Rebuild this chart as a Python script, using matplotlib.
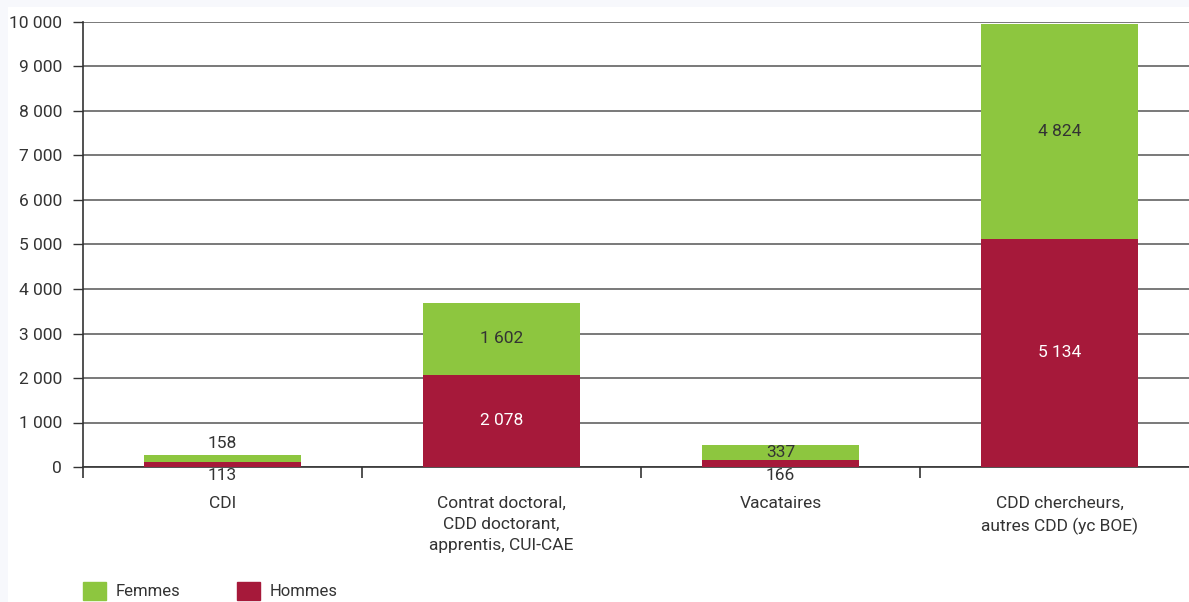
import numpy as np
import matplotlib
matplotlib.use('Agg')
import matplotlib.pyplot as plt
from matplotlib import font_manager
from matplotlib.patches import Patch, Rectangle

# font : un condensé si possible
names = set(f.name for f in font_manager.fontManager.ttflist)
fam = 'Liberation Sans Narrow' if 'Liberation Sans Narrow' in names else 'Roboto'
plt.rcParams['font.family'] = [fam, 'DejaVu Sans']
fs = 14 if fam == 'Liberation Sans Narrow' else 12.5

# données
categories = ['CDI', 'Contrat doctoral,\nCDD doctorant,\napprentis, CUI-CAE',
              'Vacataires', 'CDD chercheurs,\nautres CDD (yc BOE)']
hommes = [113, 2078, 166, 5134]
femmes = [158, 1602, 337, 4824]
yticks = [0, 1000, 2000, 3000, 4000, 5000, 6000, 7000, 8000, 9000, 10000]

c_f = '#8dc63f'
c_h = '#a6193a'
txt = '#333333'

def fmt(v):
    return '{:,}'.format(v).replace(',', ' ')

fig = plt.figure(figsize=(11.89, 6.02), dpi=100, facecolor='#f7f8fc')
fig.patches.append(Rectangle((8/1189, 0), 1, 1 - 7/602, transform=fig.transFigure,
                             facecolor='white', edgecolor='none', zorder=-5))
ax = fig.add_axes([83/1189, 135/602, 1106/1189, 445/602])
ax.set_facecolor('none')

x = np.arange(len(categories))
ax.bar(x, hommes, width=0.56, color=c_h, zorder=3)
ax.bar(x, femmes, width=0.56, bottom=hommes, color=c_f, zorder=3)

ax.set_ylim(0, 10000)
ax.set_xlim(-0.5, -0.5 + 1106/279)
ax.set_yticks(yticks)
ax.set_yticklabels([fmt(v) for v in yticks])
ax.yaxis.grid(True, color='#555555', lw=1.1, zorder=1)
ax.set_axisbelow(True)

ax.set_xticks(x)
ax.set_xticklabels(categories, linespacing=1.5)
ax.tick_params(axis='x', length=0, pad=21, labelsize=fs, labelcolor=txt)
ax.set_xticks(np.arange(len(categories)) - 0.5, minor=True)
ax.tick_params(axis='x', which='minor', length=8, width=1.2, color='#333333')
ax.tick_params(axis='y', length=7, width=1, color='#333333', labelsize=fs,
               labelcolor=txt, pad=8)

for s in ['top', 'right']:
    ax.spines[s].set_visible(False)
ax.spines['left'].set_color('#333333')
ax.spines['left'].set_linewidth(1.2)
ax.spines['bottom'].set_color('#333333')
ax.spines['bottom'].set_linewidth(1.2)

# étiquettes
for i in range(len(categories)):
    h, f = hommes[i], femmes[i]
    if h > 1000:
        ax.text(i, h / 2, fmt(h), ha='center', va='center', color='white', fontsize=fs, zorder=4)
        ax.text(i, h + f / 2, fmt(f), ha='center', va='center', color=txt, fontsize=fs, zorder=4)
    else:
        ax.annotate(fmt(h), (i, 0), xytext=(0, -1), textcoords='offset points',
                    ha='center', va='top', color=txt, fontsize=fs)
        if i == 0:
            ax.annotate(fmt(f), (i, h + f), xytext=(0, 3), textcoords='offset points',
                        ha='center', va='bottom', color=txt, fontsize=fs)
        else:
            ax.text(i, h + f / 2, fmt(f), ha='center', va='center', color=txt, fontsize=fs, zorder=4)

handles = [Patch(color=c_f, label='Femmes'), Patch(color=c_h, label='Hommes')]
fig.legend(handles=handles, loc='lower left', bbox_to_anchor=(83/1189, 2/602),
           ncol=2, frameon=False, fontsize=12, handlelength=1.4, handleheight=1.3,
           handletextpad=0.55, columnspacing=3.4, borderpad=0, borderaxespad=0,
           labelcolor=txt)

fig.savefig('out.png', dpi=100, facecolor=fig.get_facecolor())
